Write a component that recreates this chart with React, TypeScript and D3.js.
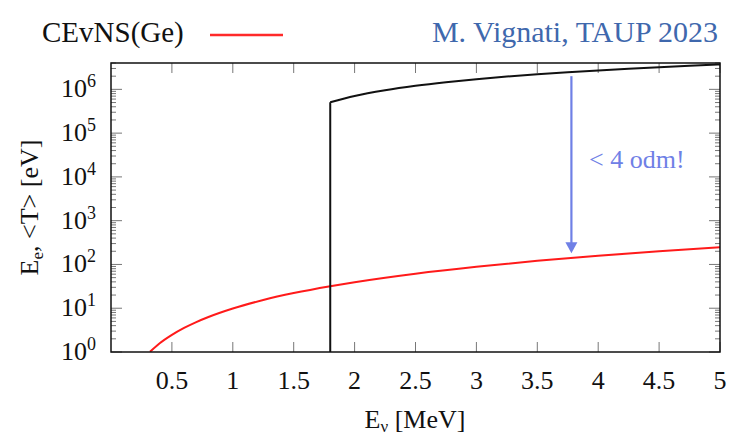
import React from "react";
import * as d3 from "d3";

// Neutrino energy grid [MeV] and the quantities plotted against it
const ibdEnergy = [1.8, 2.0, 2.25, 2.5, 2.75, 3.0, 3.25, 3.5, 3.75, 4.0, 4.25, 4.5, 4.75, 5.0];
const ibdPositronEnergy = [5.07e5, 7.07e5, 9.57e5, 1.21e6, 1.46e6, 1.71e6, 1.96e6, 2.21e6, 2.46e6, 2.71e6, 2.96e6, 3.21e6, 3.46e6, 3.71e6];

const cevnsEnergy = [0.32, 0.4, 0.5, 0.6, 0.7, 0.8, 1.0, 1.25, 1.5, 1.8, 2.0, 2.5, 3.0, 3.5, 4.0, 4.5, 5.0];
const cevnsMeanRecoil = [1.01, 1.58, 2.46, 3.55, 4.83, 6.3, 9.85, 15.4, 22.2, 31.9, 39.4, 61.6, 88.7, 121, 158, 199, 246];

const xTicks = [0.5, 1, 1.5, 2, 2.5, 3, 3.5, 4, 4.5, 5];
const xTickLabels = ["0.5", "1", "1.5", "2", "2.5", "3", "3.5", "4", "4.5", "5"];
const yDecades = [0, 1, 2, 3, 4, 5, 6];

// Gap annotation
const arrowX = 3.78;
const arrowFrom = 2.0e6;
const arrowTo = 1.8e2;
const gapLabel = "< 4 odm!";

const legendLabel = "CEvNS(Ge)";
const creditLabel = "M. Vignati, TAUP 2023";

const W = 731;
const H = 439;
const left = 111;
const right = 720;
const top = 63;
const bottom = 352;
const serif = "'Liberation Serif', 'Times New Roman', Times, serif";
const blue = "#6f80e6";

export default function App() {
  const x = d3.scaleLinear().domain([0, 5]).range([left, right]);
  const y = d3.scaleLog().domain([1, 4e6]).range([bottom, top]);

  const line = d3
    .line<[number, number]>()
    .x((d) => x(d[0]))
    .y((d) => y(d[1]))
    .curve(d3.curveMonotoneX);

  const ibdPoints: [number, number][] = ibdEnergy.map((e, i) => [e, ibdPositronEnergy[i]]);
  // Threshold: vertical rise from the bottom of the frame
  const ibdPath =
    `M${x(ibdEnergy[0])},${bottom}L${x(ibdEnergy[0])},${y(ibdPositronEnergy[0])}` +
    (line(ibdPoints) || "").replace(/^M/, "L");

  const cevnsPoints: [number, number][] = cevnsEnergy.map((e, i) => [e, cevnsMeanRecoil[i]]);
  const cevnsPath = line(cevnsPoints) || "";

  // Minor log ticks
  const minor: number[] = [];
  for (let d = 0; d <= 6; d++) {
    for (let m = 2; m <= 9; m++) {
      const v = m * Math.pow(10, d);
      if (v <= 4e6) minor.push(v);
    }
  }

  const tickColor = "#777";
  const ax = x(arrowX);
  const ay0 = y(arrowFrom);
  const ay1 = y(arrowTo);
  const textStyle = { fontFamily: serif };

  return (
    <svg width={W} height={H} style={{ position: "absolute", left: 0, top: 0, background: "#fff" }}>
      {/* Legend and credit */}
      <text x={42} y={42} style={textStyle} fontSize={29} fill="#111">
        {legendLabel}
      </text>
      <line x1={210} x2={283} y1={35} y2={35} stroke="#ff2a2a" strokeWidth={2.5} />
      <text x={718} y={42} textAnchor="end" style={textStyle} fontSize={30} fill="#3f68ad">
        {creditLabel}
      </text>

      {/* Ticks along x, bottom and top */}
      {xTicks.map((t) => (
        <g key={"xt" + t}>
          <line x1={x(t)} x2={x(t)} y1={bottom} y2={bottom - 10} stroke={tickColor} strokeWidth={1} />
          <line x1={x(t)} x2={x(t)} y1={top} y2={top + 10} stroke={tickColor} strokeWidth={1} />
        </g>
      ))}

      {/* Ticks along y, left and right */}
      {yDecades.map((d) => (
        <g key={"yd" + d}>
          <line x1={left} x2={left + 11} y1={y(Math.pow(10, d))} y2={y(Math.pow(10, d))} stroke={tickColor} strokeWidth={1} />
          <line x1={right} x2={right - 11} y1={y(Math.pow(10, d))} y2={y(Math.pow(10, d))} stroke={tickColor} strokeWidth={1} />
        </g>
      ))}
      {minor.map((v) => (
        <g key={"ym" + v}>
          <line x1={left} x2={left + 5} y1={y(v)} y2={y(v)} stroke={tickColor} strokeWidth={1} />
          <line x1={right} x2={right - 5} y1={y(v)} y2={y(v)} stroke={tickColor} strokeWidth={1} />
        </g>
      ))}

      {/* Curves */}
      <defs>
        <clipPath id="plot-clip">
          <rect x={left} y={top} width={right - left} height={bottom - top} />
        </clipPath>
      </defs>
      <g clipPath="url(#plot-clip)">
        <path d={cevnsPath} fill="none" stroke="#ff1a1a" strokeWidth={2} />
        <path d={ibdPath} fill="none" stroke="#111" strokeWidth={2} />
      </g>

      {/* Frame */}
      <rect x={left} y={top} width={right - left} height={bottom - top} fill="none" stroke="#111" strokeWidth={1.5} />

      {/* Gap arrow */}
      <line x1={ax} x2={ax} y1={ay0} y2={ay1 - 10} stroke={blue} strokeWidth={2.2} />
      <path d={`M${ax - 6},${ay1 - 11}L${ax + 6},${ay1 - 11}L${ax},${ay1}Z`} fill={blue} />
      <text x={589} y={168} style={textStyle} fontSize={26} fill={blue}>
        {gapLabel}
      </text>

      {/* X tick labels */}
      {xTicks.map((t, i) => (
        <text key={"xl" + t} x={x(t)} y={389} textAnchor="middle" style={textStyle} fontSize={26} fill="#111">
          {xTickLabels[i]}
        </text>
      ))}

      {/* Y tick labels */}
      {yDecades.map((d) => (
        <text key={"yl" + d} x={96} y={y(Math.pow(10, d)) + 8} textAnchor="end" style={textStyle} fontSize={26} fill="#111">
          10
          <tspan dy={-10} fontSize={18}>
            {d}
          </tspan>
        </text>
      ))}

      {/* Axis titles */}
      <text x={415} y={428} textAnchor="middle" style={textStyle} fontSize={26} fill="#111">
        E
        <tspan dy={4} fontSize={17}>ν</tspan>
        <tspan dy={-4}> [MeV]</tspan>
      </text>
      <text
        transform={`translate(38,${(top + bottom) / 2}) rotate(-90)`}
        textAnchor="middle"
        style={textStyle}
        fontSize={26}
        fill="#111"
      >
        E
        <tspan dy={5} fontSize={17}>e</tspan>
        <tspan dy={-5}>, &lt;T&gt; [eV]</tspan>
      </text>
    </svg>
  );
}
